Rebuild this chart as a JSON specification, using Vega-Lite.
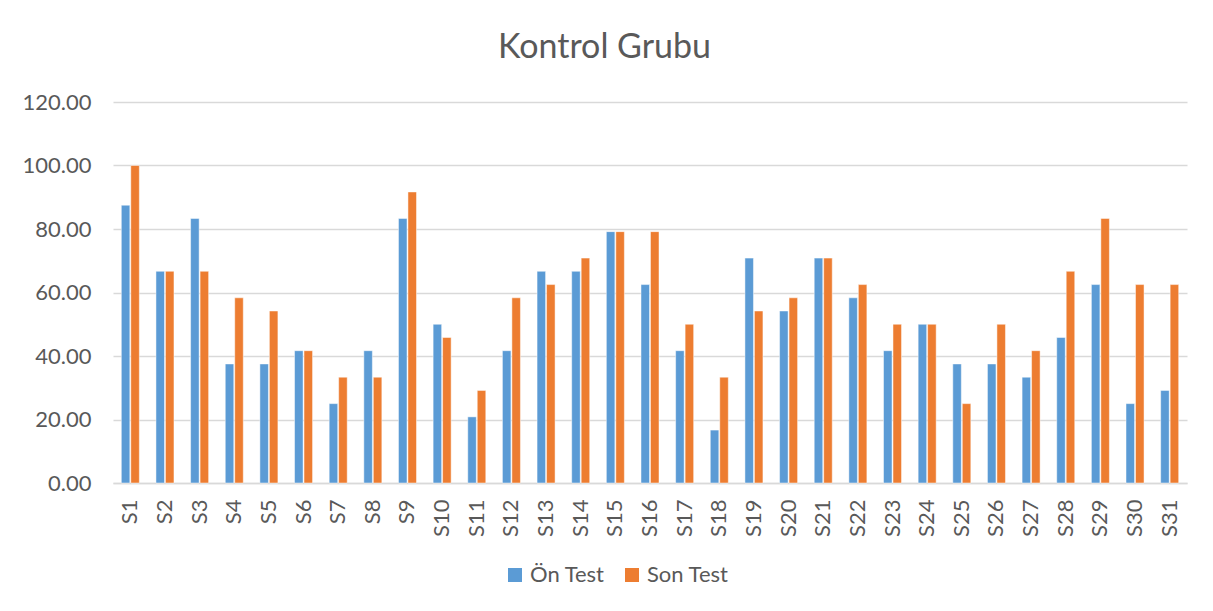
{
  "$schema": "https://vega.github.io/schema/vega-lite/v6.json",
  "autosize": {"type": "none"},
  "width": 1074,
  "height": 381,
  "padding": {"left": 113, "top": 102, "right": 26, "bottom": 128},
  "background": "#ffffff",
  "title": {
    "text": "Kontrol Grubu",
    "anchor": "middle",
    "frame": "bounds",
    "font": "Lato",
    "fontSize": 34,
    "fontWeight": "normal",
    "color": "#595959",
    "offset": 26
  },
  "data": {
    "values": [
      {"s": "S1", "Ön Test": 87.5, "Son Test": 100},
      {"s": "S2", "Ön Test": 66.67, "Son Test": 66.67},
      {"s": "S3", "Ön Test": 83.33, "Son Test": 66.67},
      {"s": "S4", "Ön Test": 37.5, "Son Test": 58.33},
      {"s": "S5", "Ön Test": 37.5, "Son Test": 54.17},
      {"s": "S6", "Ön Test": 41.67, "Son Test": 41.67},
      {"s": "S7", "Ön Test": 25, "Son Test": 33.33},
      {"s": "S8", "Ön Test": 41.67, "Son Test": 33.33},
      {"s": "S9", "Ön Test": 83.33, "Son Test": 91.67},
      {"s": "S10", "Ön Test": 50, "Son Test": 45.83},
      {"s": "S11", "Ön Test": 20.83, "Son Test": 29.17},
      {"s": "S12", "Ön Test": 41.67, "Son Test": 58.33},
      {"s": "S13", "Ön Test": 66.67, "Son Test": 62.5},
      {"s": "S14", "Ön Test": 66.67, "Son Test": 70.83},
      {"s": "S15", "Ön Test": 79.17, "Son Test": 79.17},
      {"s": "S16", "Ön Test": 62.5, "Son Test": 79.17},
      {"s": "S17", "Ön Test": 41.67, "Son Test": 50},
      {"s": "S18", "Ön Test": 16.67, "Son Test": 33.33},
      {"s": "S19", "Ön Test": 70.83, "Son Test": 54.17},
      {"s": "S20", "Ön Test": 54.17, "Son Test": 58.33},
      {"s": "S21", "Ön Test": 70.83, "Son Test": 70.83},
      {"s": "S22", "Ön Test": 58.33, "Son Test": 62.5},
      {"s": "S23", "Ön Test": 41.67, "Son Test": 50},
      {"s": "S24", "Ön Test": 50, "Son Test": 50},
      {"s": "S25", "Ön Test": 37.5, "Son Test": 25},
      {"s": "S26", "Ön Test": 37.5, "Son Test": 50},
      {"s": "S27", "Ön Test": 33.33, "Son Test": 41.67},
      {"s": "S28", "Ön Test": 45.83, "Son Test": 66.67},
      {"s": "S29", "Ön Test": 62.5, "Son Test": 83.33},
      {"s": "S30", "Ön Test": 25, "Son Test": 62.5},
      {"s": "S31", "Ön Test": 29.17, "Son Test": 62.5}
    ]
  },
  "transform": [{"fold": ["Ön Test", "Son Test"], "as": ["test", "value"]}],
  "mark": {"type": "bar", "stroke": "#ffffff", "strokeWidth": 0.8, "strokeOpacity": 0.6},
  "encoding": {
    "x": {
      "field": "s",
      "type": "nominal",
      "sort": null,
      "scale": {"paddingInner": 0.48, "paddingOuter": 0.24},
      "axis": {
        "title": null,
        "labelAngle": -90,
        "labelFont": "Lato",
        "labelFontSize": 22,
        "labelColor": "#595959",
        "labelPadding": 16,
        "ticks": false,
        "domainColor": "#d9d9d9",
        "domainWidth": 1.5,
        "grid": false
      }
    },
    "xOffset": {
      "field": "test",
      "type": "nominal",
      "sort": ["Ön Test", "Son Test"],
      "scale": {"paddingInner": 0.1}
    },
    "y": {
      "field": "value",
      "type": "quantitative",
      "scale": {"domain": [0, 120], "nice": false},
      "axis": {
        "title": null,
        "values": [0, 20, 40, 60, 80, 100, 120],
        "format": ".2f",
        "labelFont": "Lato",
        "labelFontSize": 22,
        "labelColor": "#595959",
        "labelPadding": 22,
        "ticks": false,
        "domain": false,
        "gridColor": "#d9d9d9",
        "gridWidth": 1.5
      }
    },
    "color": {
      "field": "test",
      "type": "nominal",
      "scale": {"domain": ["Ön Test", "Son Test"], "range": ["#5b9bd5", "#ed7d31"]},
      "legend": {
        "title": null,
        "orient": "none",
        "legendX": 391,
        "legendY": 462,
        "direction": "horizontal",
        "symbolType": "square",
        "symbolSize": 196,
        "symbolStrokeWidth": 0,
        "labelFont": "Lato",
        "labelFontSize": 22,
        "labelColor": "#595959",
        "labelOffset": 4,
        "columnPadding": 16
      }
    }
  },
  "config": {"view": {"stroke": null}}
}
